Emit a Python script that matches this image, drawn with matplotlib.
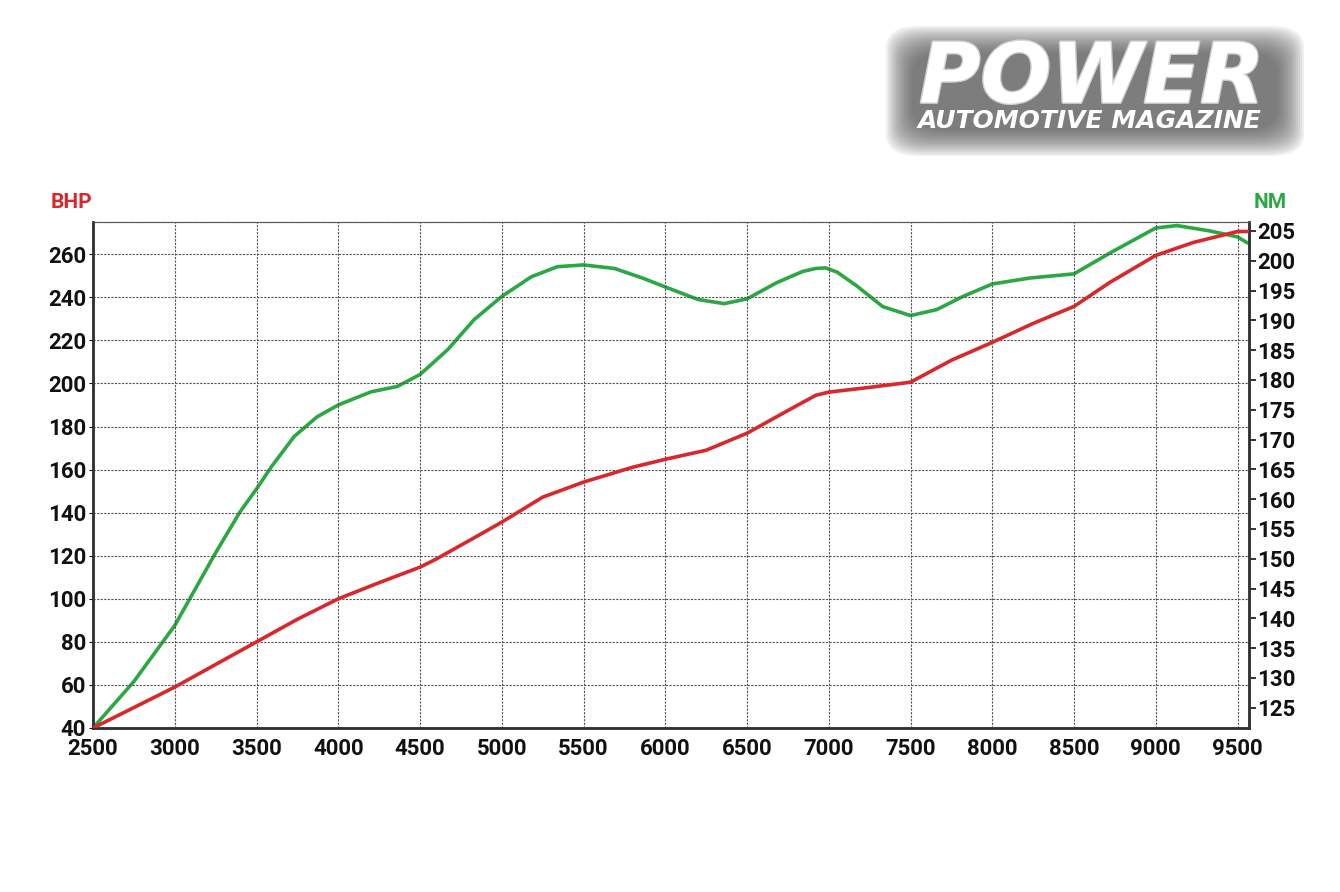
import numpy as np
import matplotlib.pyplot as plt
import matplotlib.patheffects as pe
from matplotlib.patches import FancyBboxPatch

# BHP curve (left axis)
rpm_bhp = [2500, 2750, 3000, 3250, 3500, 3750, 4000, 4250, 4500, 4600, 4800, 5000, 5250,
           5500, 5800, 6000, 6250, 6500, 6720, 6920, 7000, 7250, 7500, 7750, 8000,
           8250, 8500, 8720, 9000, 9230, 9500, 9560]
bhp = [40, 49.5, 59, 69.5, 80, 90.5, 100, 107.5, 114.7, 118.5, 127, 135.6, 147.2,
       154.2, 161.1, 164.8, 169, 176.9, 186.2, 194.5, 196, 198.2, 200.6, 210.8, 219.1,
       227.9, 235.8, 247, 259.5, 265.5, 270.6, 270.6]

# torque curve (right axis)
rpm_nm = [2500, 2750, 3000, 3250, 3400, 3510, 3590, 3730, 3870, 4000, 4200,
          4360, 4500, 4670, 4830, 5000, 5180, 5340, 5500, 5690, 5860, 6000, 6200,
          6360, 6500, 6680, 6840, 6920, 6980, 7050, 7170, 7330, 7500, 7660, 7820, 8000,
          8230, 8500, 8720, 9000, 9130, 9330, 9500, 9560]
nm = [121.6, 129.4, 138.8, 151, 157.9, 162.1, 165.4, 170.5, 173.8, 175.8, 178,
      178.9, 180.9, 185.1, 190.1, 194, 197.3, 199, 199.3, 198.7, 197.1, 195.6, 193.5,
      192.8, 193.6, 196.3, 198.2, 198.7, 198.8, 198.1, 195.8, 192.3, 190.8, 191.8, 194,
      196.1, 197.1, 197.8, 201.3, 205.5, 205.9, 205, 204, 203]

x_ticks = list(range(2500, 10000, 500))
bhp_ticks = list(range(40, 261, 20))
nm_ticks = list(range(125, 206, 5))

red = '#d8282c'
green = '#2ba843'
fnt = ['Roboto', 'DejaVu Sans']

fig = plt.figure(figsize=(13.4, 8.92), dpi=100)
ax = fig.add_axes([93/1340, 1 - 728/892, (1249 - 93)/1340, (728 - 222)/892])
ax2 = ax.twinx()

ax.set_xlim(2500, 9570)
ax.set_ylim(40, 275)
ax2.set_ylim(121.6, 206.5)

ax.set_xticks(x_ticks)
ax.set_yticks(bhp_ticks)
ax2.set_yticks(nm_ticks)
ax.set_xticklabels([str(v) for v in x_ticks], family=fnt, weight='bold', fontsize=16)
ax.set_yticklabels([str(v) for v in bhp_ticks], family=fnt, weight='bold', fontsize=16)
ax2.set_yticklabels([str(v) for v in nm_ticks], family=fnt, weight='bold', fontsize=16)

ax.grid(True, color='#555555', linestyle=(0, (2, 1.2)), linewidth=0.8)
ax.tick_params(axis='x', length=0, pad=7, colors='#111111')
ax.tick_params(axis='y', length=3, pad=2, colors='#111111')
ax2.tick_params(axis='y', length=5, pad=1, colors='#111111', width=1.2)

for a in (ax, ax2):
    a.spines['top'].set_linestyle((0, (2, 1.2)))
    a.spines['top'].set_color('#555555')
    a.spines['top'].set_linewidth(0.8)
    for s in ('left', 'bottom', 'right'):
        a.spines[s].set_color('#333333')
        a.spines[s].set_linewidth(1.8)

ax2.plot(rpm_nm, nm, color=green, linewidth=2.6, solid_capstyle='round',
         solid_joinstyle='round')
ax.plot(rpm_bhp, bhp, color=red, linewidth=2.6, solid_capstyle='round',
        solid_joinstyle='round', zorder=5)
ax.set_zorder(ax2.get_zorder() + 1)
ax.patch.set_visible(False)

fig.text(71/1340, 1 - 203/892, 'BHP', color=red, family=fnt, weight='bold',
         fontsize=15, ha='center', va='center')
fig.text(1270/1340, 1 - 203/892, 'NM', color=green, family=fnt, weight='bold',
         fontsize=15, ha='center', va='center')

# logo: soft grey glow behind white letters (many faint layers)
for grow in range(26, -1, -2):
    x0, y0, w, h = 912 - grow, 52 - grow, 366 + 2 * grow, 78 + 2 * grow
    box = FancyBboxPatch((x0/1340, 1 - (y0 + h)/892), w/1340, h/892,
                         boxstyle='round,pad=0,rounding_size=0.025',
                         transform=fig.transFigure, facecolor='#505050',
                         edgecolor='none', alpha=0.085)
    fig.patches.append(box)

fig.text(1092/1340, 1 - 79/892, 'POWER', color='white', family='DejaVu Sans',
         weight='bold', style='italic', fontsize=60, ha='center', va='center',
         path_effects=[pe.withStroke(linewidth=2, foreground='#cfcfcf')])
fig.text(1090/1340, 1 - 121/892, 'AUTOMOTIVE MAGAZINE', color='white',
         family='DejaVu Sans', weight='bold', style='italic', fontsize=18,
         ha='center', va='center')

fig.savefig('out.png', dpi=100, facecolor='white')
